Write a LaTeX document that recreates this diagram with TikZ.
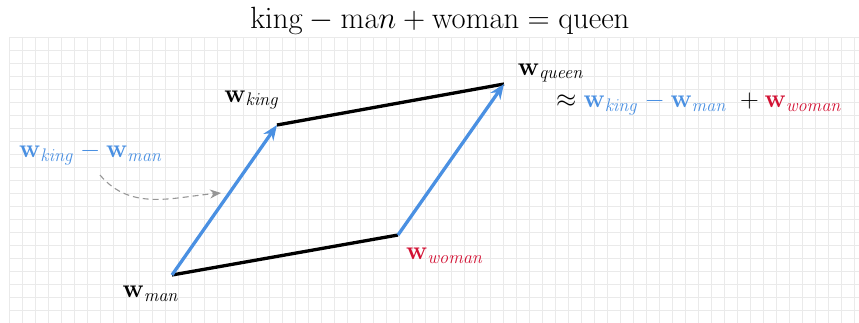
\RequirePackage{fix-cm}
\documentclass[tikz,border=0pt]{standalone}
\usepackage{amsmath,amssymb,bm}
\usetikzlibrary{positioning,arrows.meta}
\definecolor{vecblue}{RGB}{74,144,226}
\definecolor{vecred}{RGB}{210,18,52}
\definecolor{gridgray}{RGB}{234,234,234}
\definecolor{hintgray}{RGB}{150,150,150}
\newcommand{\wv}[1]{\mathbf{w}_{\mathit{#1}}}
\tikzset{
  side/.style={line width=3.3pt,black},
  shiftvec/.style={line width=3.3pt,vecblue,-{Stealth[length=15pt,width=12pt]}},
  hint/.style={hintgray,line width=1.1pt,dash pattern=on 6pt off 4pt,
               -{Stealth[length=11pt,width=9pt]}},
  vlab/.style={font=\fontsize{26}{31}\selectfont,inner sep=0pt},
  gridline/.style={gridgray,line width=0.9pt}
}

\begin{document}
\begin{tikzpicture}[x=1pt,y=-1pt]
    \useasboundingbox (0,0) rectangle (859,323);
    % --- background grid
    \foreach \gx in {0,...,65}
      \draw[gridline] (9.5+13*\gx,37) -- (9.5+13*\gx,323);
    \foreach \gy in {0,...,22}
      \draw[gridline] (9.5,37+13*\gy) -- (859,37+13*\gy);
    % --- title
    \node[font=\fontsize{30.7}{36}\selectfont,anchor=base,inner sep=0pt] (title) at (440,29)
      {$\mathrm{king}-\mathrm{ma}n+\mathrm{woman}=\mathrm{queen}$};
    % --- corner points
    \coordinate (man)   at (172,275);
    \coordinate (king)  at (277,125);
    \coordinate (queen) at (504,84);
    \coordinate (woman) at (398,235);
    % --- parallelogram
    \draw[side] (man)--(woman);
    \draw[side] (king)--(queen);
    \draw[shiftvec] (man)--(king);
    \draw[shiftvec] (woman)--(queen);
    % --- labels
    \node[vlab] (kinglab)  at (252,100) {$\wv{king}$};
    \node[vlab] (queenlab) at (551,73)  {$\wv{queen}$};
    \node[vlab] (manlab)   at (151,294) {$\wv{man}$};
    \node[vlab,text=vecred] (womanlab) at (445,256) {$\wv{woman}$};
    \node[vlab,text=vecblue] (difflab) at (91,154) {$\wv{king}-\wv{man}$};
    \node[vlab,anchor=west] (approx) at (556,104)
      {$\approx\textcolor{vecblue}{\wv{king}-\wv{man}}\;+\textcolor{vecred}{\wv{woman}}$};
    % --- hint arrow
    \coordinate (hintstart) at (100,175);
    \coordinate (hintend)   at (221,193);
    \draw[hint] (hintstart) to[out=-50,in=185] (hintend);
\end{tikzpicture}
\end{document}
